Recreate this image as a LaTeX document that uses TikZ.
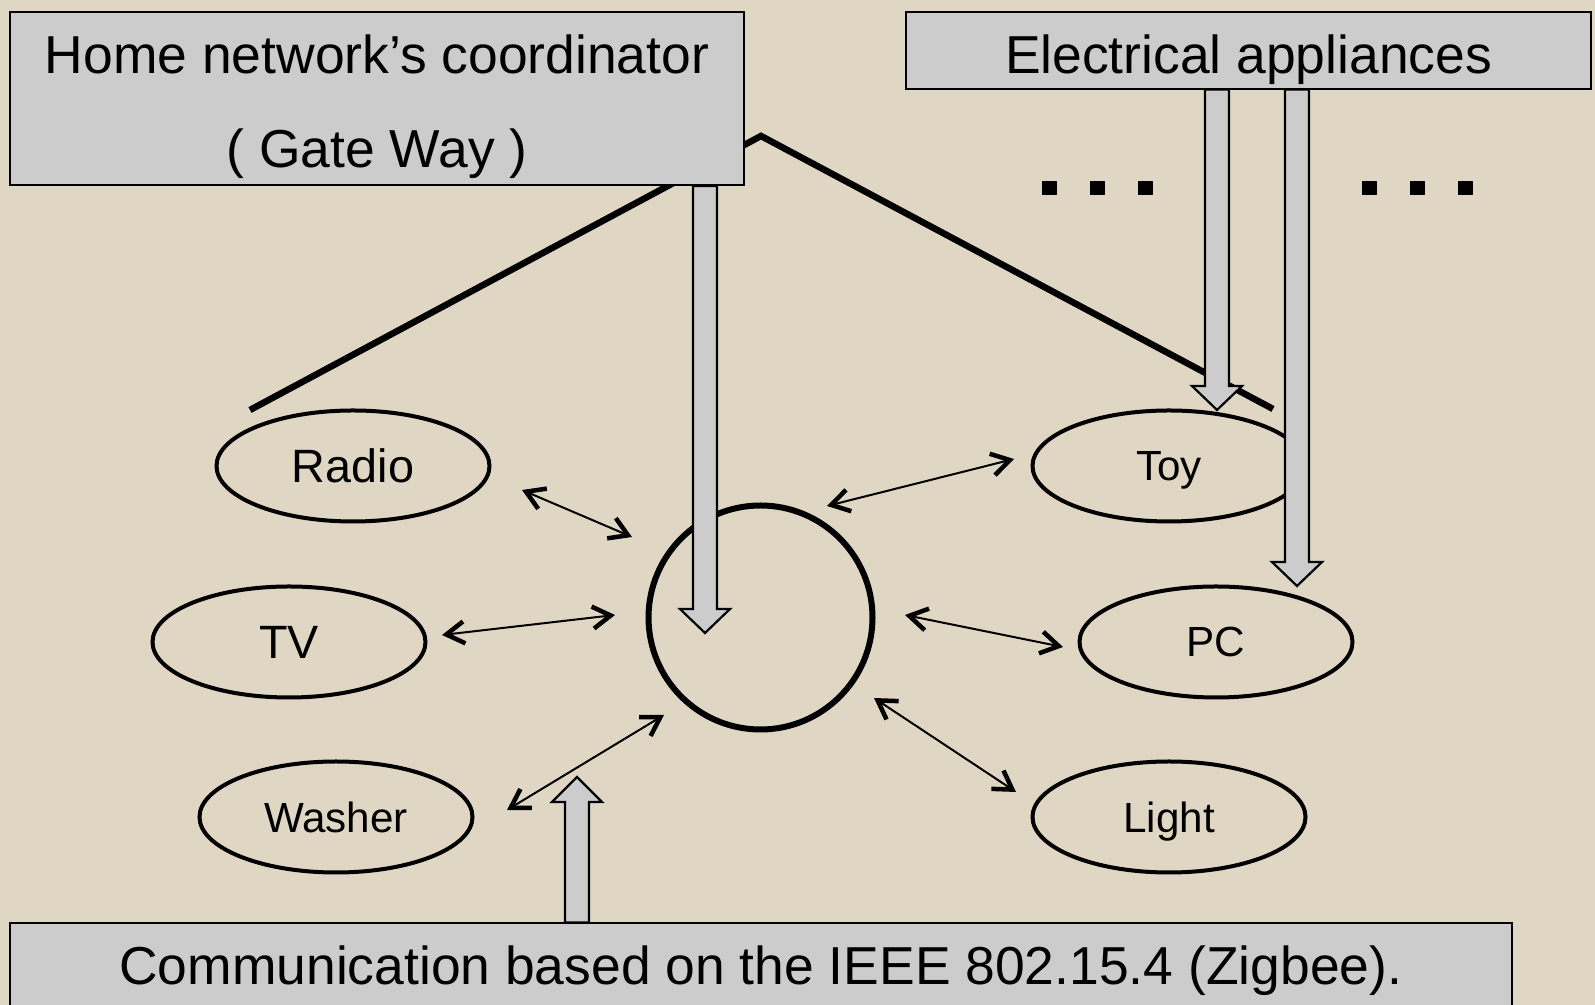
\documentclass[tikz,border=0pt]{standalone}
\usepackage{fontspec}
\setmainfont{Liberation Sans}
\usepackage{xcolor}
\usetikzlibrary{shapes.geometric, arrows.meta, calc}
\definecolor{beige}{RGB}{224,214,196}
\definecolor{boxgray}{RGB}{204,204,204}
\tikzset{
    titlebox/.style={draw, line width=0.2mm, fill=boxgray, inner sep=0pt, align=center,
        font=\fontsize{15.2}{26.7}\selectfont},
    device/.style={draw, ellipse, line width=0.4mm, minimum width=27.3mm,
        minimum height=11.1mm, inner sep=0pt, text depth=0pt,
        font=\fontsize{12}{14}\selectfont},
    link/.style={line width=0.2mm, <->,
        >={Straight Barb[length=1.8mm, width=2.2mm, line width=0.45mm]}},
    roof/.style={line width=0.65mm},
    fat/.style={draw, line width=0.22mm, fill=boxgray},
}
% gray block arrow: #1 node edge it leaves, #2 tip, #3 head base offset from tip
\newcommand{\fatarrow}[3]{%
    \draw[fat] ($(#1 -| #2)+(-12,0)$) -- ($(#2)+(-12,#3)$) -- ($(#2)+(-25,#3)$) -- (#2)
        -- ($(#2)+(25,#3)$) -- ($(#2)+(12,#3)$) -- ($(#1 -| #2)+(12,0)$) -- cycle;
}
\newcommand{\lowered}[2]{\raisebox{-#1}[\height][\depth]{#2}}

\begin{document}
\begin{tikzpicture}[x=0.1mm, y=-0.1mm]
    \useasboundingbox (0,0) rectangle (1595,1005);
    \fill[beige] (0,0) rectangle (1595,1005);

    \coordinate (apex) at (761,136);
    \draw[roof] (250,410) -- (apex) -- (1273,409);

    \node[device, font=\fontsize{13.3}{16}\selectfont] (radio) at (353,466) {Radio};
    \node[device, font=\fontsize{13.3}{16}\selectfont] (tv) at (289,642) {TV};
    \node[device] (washer) at (336,817) {Washer};
    \node[device] (toy) at (1169,466) {Toy};
    \node[device] (pc) at (1216,642) {PC};
    \node[device] (light) at (1169,817) {Light};
    \node[draw, circle, line width=0.6mm, minimum size=22.4mm, inner sep=0pt] (hub) at (760.5,617.5) {};

    \node[titlebox, minimum width=73.4mm, minimum height=17.3mm] (gw) at (377,98.5)
        {\lowered{0.82mm}{Home network’s coordinator}\\\lowered{0.82mm}{( Gate Way )}};
    \node[titlebox, minimum width=68.5mm, minimum height=7.65mm] (appliances) at (1248.5,50.3)
        {\lowered{0.92mm}{Electrical appliances}};
    \node[titlebox, minimum width=150.2mm, minimum height=8.5mm] (zigbee) at (760.8,966)
        {\lowered{0.5mm}{Communication based on the IEEE 802.15.4 (Zigbee).}};

    \foreach \x in {1049.5,1097.5,1145.5,1369.5,1417.5,1465.5}
        \fill (\x-7.5,181) rectangle (\x+7.5,195);

    \coordinate (gw-tip) at (705,633);
    \coordinate (toy-tip) at (1217,410);
    \coordinate (pc-tip) at (1297,586);
    \coordinate (zigbee-tip) at (577,777);
    \fatarrow{gw.south}{gw-tip}{-24}
    \fatarrow{appliances.south}{toy-tip}{-24}
    \fatarrow{appliances.south}{pc-tip}{-24}
    \fatarrow{zigbee.north}{zigbee-tip}{25}

    \foreach \dev/\ax/\ay/\bx/\by in {radio/522/490/632/537, tv/442/635/615/615,
        washer/507/810/664/715, toy/1014/459/827/506, pc/1063/647/905/615,
        light/1016/792/874/698}
    {%
        \coordinate (\dev-out) at (\ax,\ay);
        \coordinate (\dev-in) at (\bx,\by);
        \draw[link] (\dev-out) -- (\dev-in);
    }
\end{tikzpicture}
\end{document}
